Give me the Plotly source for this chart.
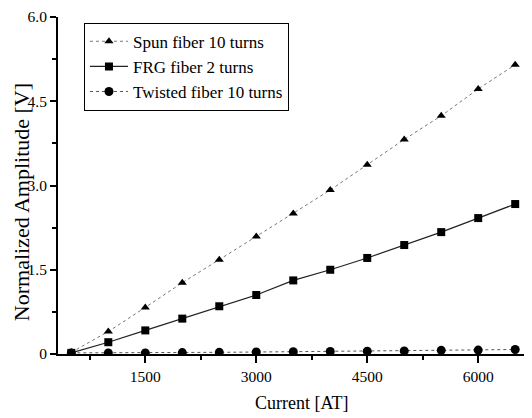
import plotly.graph_objects as go

current = [500, 1000, 1500, 2000, 2500, 3000, 3500, 4000, 4500, 5000, 5500, 6000, 6500]
spun = [0.03, 0.40, 0.83, 1.27, 1.68, 2.09, 2.50, 2.92, 3.37, 3.82, 4.24, 4.72, 5.15]
frg = [0.02, 0.21, 0.42, 0.63, 0.85, 1.05, 1.31, 1.50, 1.71, 1.94, 2.17, 2.42, 2.67]
twisted = [0.02, 0.02, 0.02, 0.025, 0.03, 0.035, 0.04, 0.045, 0.05, 0.055, 0.065, 0.07, 0.08]

y_ticks = [0, 1.5, 3.0, 4.5, 6.0]
y_ticktext = ["0", "1.5", "3.0", "4.5", "6.0"]
x_ticks = [1500, 3000, 4500, 6000]

FONT = "Times New Roman"

fig = go.Figure()
fig.add_trace(go.Scatter(
    x=current, y=spun, mode="lines+markers", name="Spun fiber 10 turns",
    legendgroup="a",
    line=dict(color="#777777", width=1, dash="dot"),
    marker=dict(symbol="triangle-up", size=8, color="black"),
))
fig.add_trace(go.Scatter(
    x=current, y=frg, mode="lines+markers", name="FRG fiber 2 turns",
    legendgroup="b",
    line=dict(color="#222222", width=1.2),
    marker=dict(symbol="square", size=8, color="black"),
))
fig.add_trace(go.Scatter(
    x=current, y=twisted, mode="lines+markers", name="Twisted fiber 10 turns",
    legendgroup="c",
    line=dict(color="#555555", width=1, dash="dot"),
    marker=dict(symbol="circle", size=9, color="black"),
))

fig.update_layout(
    width=524, height=410,
    margin=dict(l=50, r=2, t=9, b=64, autoexpand=False),
    paper_bgcolor="white", plot_bgcolor="white",
    font=dict(family=FONT, size=14, color="black"),
    legend=dict(
        x=0.055, y=0.983, xanchor="left", yanchor="top",
        bordercolor="black", borderwidth=1, bgcolor="white",
        font=dict(family=FONT, size=17, color="black"),
        tracegroupgap=0, itemwidth=38,
    ),
    xaxis=dict(
        range=[320, 6700], automargin=False,
        tickvals=x_ticks,
        ticks="outside", ticklen=7, tickwidth=1.5, tickcolor="black",
        minor=dict(tickvals=[750, 2250, 3750, 5250, 6750], ticks="outside", ticklen=4, tickcolor="black"),
        showline=True, linecolor="black", linewidth=2,
        showgrid=False, zeroline=False,
        tickfont=dict(family=FONT, size=15.5),
    ),
    yaxis=dict(
        range=[0, 6.0], automargin=False, ticklabeloverflow="allow",
        tickvals=y_ticks, ticktext=y_ticktext,
        ticks="outside", ticklen=6, tickwidth=1.5, tickcolor="black",
        minor=dict(tickvals=[0.75, 2.25, 3.75, 5.25], ticks="outside", ticklen=4, tickcolor="black"),
        showline=True, linecolor="black", linewidth=2,
        showgrid=False, zeroline=False,
        tickfont=dict(family=FONT, size=15.5),
    ),
    annotations=[
        dict(text="Normalized Amplitude [V]", textangle=-90, showarrow=False,
             xref="paper", yref="paper", x=-0.078, y=0.451,
             xanchor="center", yanchor="middle",
             font=dict(family=FONT, size=22, color="black")),
        dict(text="Current [AT]", showarrow=False,
             xref="paper", yref="paper", x=0.515, y=-0.145,
             xanchor="center", yanchor="middle",
             font=dict(family=FONT, size=18, color="black")),
    ],
)

fig.write_html("out.html")
